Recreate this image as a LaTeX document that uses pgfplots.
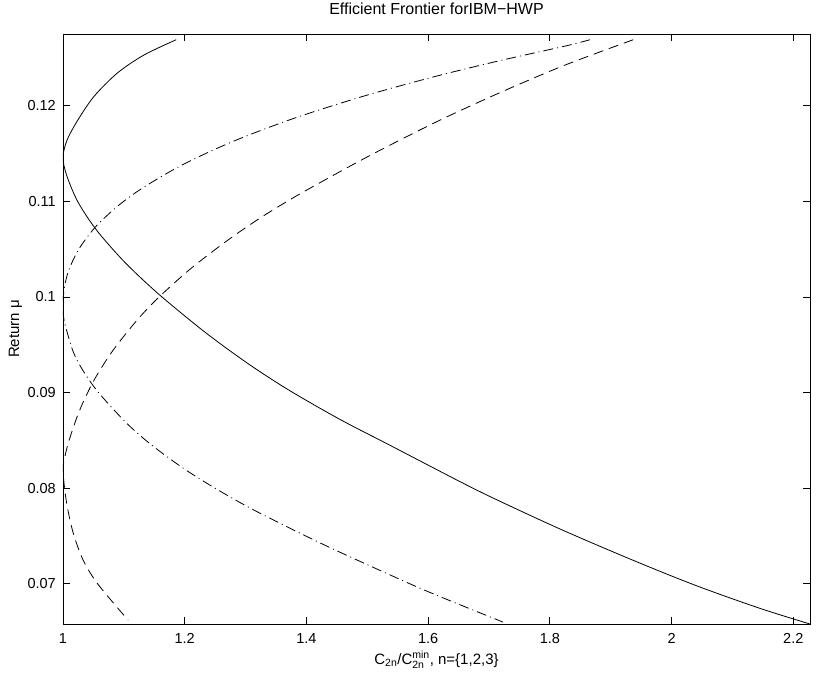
\documentclass[border=0pt]{standalone}
\usepackage{fontspec}
\setmainfont{Liberation Sans}
\usepackage{amsmath}
\usepackage{pgfplots}
\pgfplotsset{compat=1.18}
\begin{document}
\fontsize{15bp}{18bp}\selectfont
\begin{tikzpicture}[x=1bp,y=1bp]
\begin{axis}[
  scale only axis,
  width=747bp, height=590bp,
  xmin=1, xmax=2.2275, ymin=0.0658, ymax=0.1275,
  xtick={1,1.2,1.4,1.6,1.8,2,2.2},
  xticklabels={1,1.2,1.4,1.6,1.8,2,2.2},
  ytick={0.07,0.08,0.09,0.1,0.11,0.12},
  yticklabels={0.07,0.08,0.09,0.1,0.11,0.12},
  tick align=inside,
  major tick length=7bp,
  axis line style={line width=0.8bp},
  every tick/.style={line width=0.8bp, black},
  tick label style={font=\fontsize{14.5bp}{17bp}\selectfont},
  xticklabel style={yshift=-4bp},
  yticklabel style={xshift=-2bp},
  label style={font=\fontsize{15bp}{18bp}\selectfont},
  title style={font=\fontsize{16bp}{19bp}\selectfont, at={(0.5,1)}, anchor=base, yshift=14bp},
  title={Efficient Frontier forIBM−HWP},
  xlabel={C$_{\text{2n}}$/C$^{\text{min}}_{\text{2n}}$, n=\{1,2,3\}},
  xlabel style={at={(0.5,0)}, anchor=base, yshift=-40bp},
  clip=true,
]
% n=1 (solid)
\addplot[black, line width=0.8bp, smooth] coordinates {
(1.186,0.1269) (1.133,0.1253) (1.089,0.1234) (1.050,0.1209) (1.0215,0.1182)
(1.006,0.1163) (1.000,0.1146) (1.0056,0.1128) (1.024,0.1100) (1.055,0.1070)
(1.102,0.1036) (1.159,0.1002) (1.2357,0.0962) (1.307,0.0929) (1.3727,0.0902)
(1.455,0.0872) (1.537,0.0845) (1.652,0.0807) (1.7125,0.0788) (1.818,0.0757)
(1.9316,0.0726) (2.041,0.0698) (2.147,0.0674) (2.2275,0.0658)
};
% n=2 (dash-dot)
\addplot[black, line width=0.8bp, smooth,
  dash pattern=on 10bp off 4bp on 1bp off 4bp] coordinates {
(1.866,0.1269) (1.826,0.12625) (1.717,0.1247) (1.608,0.1230) (1.494,0.1210)
(1.385,0.1188) (1.296,0.1167) (1.231,0.1149) (1.181,0.1133) (1.126,0.1112)
(1.088,0.1094) (1.053,0.1073) (1.026,0.1050) (1.0095,0.1028) (1.0023,0.1010)
(1.000,0.0992) (1.002,0.0975) (1.0166,0.0943) (1.0329,0.0923) (1.0584,0.0900)
(1.1046,0.0868) (1.1459,0.0845) (1.1997,0.0820) (1.2552,0.0798) (1.3202,0.0775)
(1.4284,0.0741) (1.542,0.0708) (1.6105,0.0689) (1.723,0.0660)
};
% n=3 (dashed)
\addplot[black, line width=0.8bp, smooth,
  dash pattern=on 10bp off 6bp] coordinates {
(1.937,0.1269) (1.823,0.1242) (1.712,0.1212) (1.610,0.1182) (1.4986,0.1146)
(1.390,0.1108) (1.325,0.1083) (1.270,0.1059) (1.2106,0.1030) (1.158,0.1000)
(1.122,0.0976) (1.082,0.0944) (1.051,0.0913) (1.027,0.0881) (1.010,0.0850)
(1.0028,0.0832) (1.000,0.0818) (1.0056,0.0786) (1.0164,0.0754) (1.033,0.0725)
(1.057,0.0700) (1.107,0.0662)
};
\end{axis}
\node[rotate=90, anchor=base, font=\fontsize{15bp}{18bp}\selectfont]
  at ([xshift=-44bp]current axis.west) {Return μ};
\pgfresetboundingbox
\path ([shift={(-63bp,-58bp)}]current axis.south west) rectangle ([shift={(7bp,34bp)}]current axis.north east);
\end{tikzpicture}
\end{document}
